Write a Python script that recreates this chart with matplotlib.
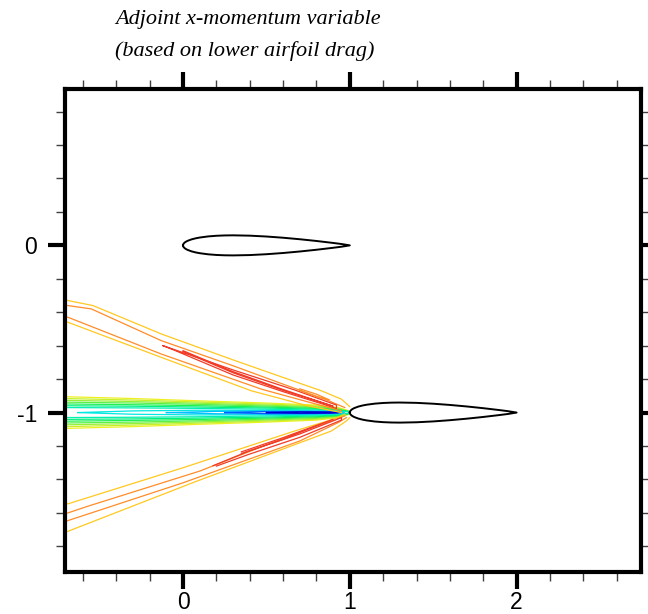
import matplotlib
matplotlib.use('Agg')
import matplotlib.pyplot as plt
import numpy as np
from matplotlib.ticker import MultipleLocator, FixedLocator

# NACA 0012 half-thickness table (fraction of chord)
naca_x = [0.0, 0.002, 0.005, 0.0125, 0.025, 0.05, 0.075, 0.1, 0.15, 0.2, 0.25,
          0.3, 0.4, 0.5, 0.6, 0.7, 0.8, 0.9, 0.95, 1.0]
naca_t = [0.0, 0.0078, 0.0122, 0.01894, 0.02615, 0.03555, 0.042, 0.04683, 0.05345,
          0.05737, 0.05941, 0.06002, 0.05803, 0.05294, 0.04563, 0.03664, 0.02623,
          0.01448, 0.00807, 0.0]
airfoil_le = [(0.0, 0.0), (1.0, -1.0)]

# wake band ahead of lower airfoil nose (nested closed contours, centre y=-1)
wake_center = -1.0
wake_x = [-0.75, -0.3, 0.1, 0.5, 0.8, 0.93, 0.99, 1.0]
wake_half = [
    [0.096, 0.084, 0.070, 0.057, 0.045, 0.030, 0.012, 0.0],
    [0.085, 0.075, 0.063, 0.051, 0.040, 0.027, 0.010, 0.0],
    [0.074, 0.066, 0.056, 0.045, 0.035, 0.023, 0.009, 0.0],
    [0.063, 0.057, 0.049, 0.039, 0.030, 0.020, 0.008, 0.0],
    [0.052, 0.047, 0.041, 0.033, 0.025, 0.017, 0.007, 0.0],
    [0.041, 0.038, 0.033, 0.027, 0.020, 0.014, 0.006, 0.0],
    [0.030, 0.028, 0.025, 0.020, 0.015, 0.010, 0.005, 0.0],
]
wake_colors = ['#eef020', '#c8f028', '#96f038', '#5af048', '#20f050', '#00f080', '#00f0b0']

# inner wake loops: x stations, half widths, colour
core_x = [
    [-0.63, -0.3, 0.1, 0.5, 0.8, 0.93, 0.97],
    [-0.1, 0.2, 0.5, 0.8, 0.92, 0.96],
    [0.25, 0.5, 0.75, 0.9, 0.95],
    [0.5, 0.7, 0.88, 0.93],
]
core_half = [
    [0.0, 0.010, 0.014, 0.013, 0.011, 0.006, 0.0],
    [0.0, 0.007, 0.009, 0.008, 0.005, 0.0],
    [0.0, 0.006, 0.006, 0.004, 0.0],
    [0.0, 0.004, 0.003, 0.0],
]
core_colors = ['#00e8e0', '#00c0ff', '#0060ff', '#0000d0']

# wedge contours (upper and lower rays from lower airfoil nose)
wedge_lines = [
    # upper wedge
    ([-0.75, -0.69, -0.54, -0.13, 0.3, 0.6, 0.83, 0.95, 1.0],
     [-0.31, -0.33, -0.36, -0.53, -0.685, -0.79, -0.87, -0.92, -0.965], '#ffc820'),
    ([-0.75, -0.69, -0.55, -0.13, 0.3, 0.6, 0.85, 0.97],
     [-0.352, -0.36, -0.38, -0.57, -0.72, -0.83, -0.92, -0.97], '#ff8c28'),
    ([-0.75, -0.69, -0.13, 0.47, 0.8, 0.95],
     [-0.42, -0.43, -0.65, -0.86, -0.95, -0.99], '#ff8c28'),
    ([-0.75, -0.69, -0.13, 0.41, 0.75, 0.95],
     [-0.44, -0.46, -0.67, -0.87, -0.96, -1.0], '#ffc820'),
    ([-0.12, 0.3, 0.67, 0.92, 0.92, 0.6, 0.3, -0.05, -0.12],
     [-0.60, -0.745, -0.865, -0.955, -0.975, -0.875, -0.775, -0.628, -0.60], '#f03c28'),
    ([0.0, 0.3, 0.6, 0.9, 0.6, 0.3, 0.0],
     [-0.63, -0.755, -0.862, -0.962, -0.868, -0.762, -0.635], '#f03c28'),
    ([0.70, 0.80, 0.88, 0.80, 0.70],
     [-0.858, -0.89, -0.925, -0.905, -0.868], '#ff8c28'),
    # lower wedge
    ([-0.75, -0.69, 0.0, 0.67, 0.9, 0.97],
     [-1.52, -1.546, -1.33, -1.11, -1.04, -1.01], '#ffc820'),
    ([-0.75, -0.69, -0.57, 0.1, 0.7, 0.92, 0.97],
     [-1.615, -1.60, -1.56, -1.35, -1.115, -1.04, -1.02], '#ff8c28'),
    ([-0.75, -0.69, 0.0, 0.7, 0.93, 0.98],
     [-1.665, -1.646, -1.42, -1.17, -1.06, -1.03], '#ff8c28'),
    ([-0.75, -0.69, 0.07, 0.89, 0.98, 1.0],
     [-1.73, -1.71, -1.415, -1.11, -1.05, -1.03], '#ffc820'),
    ([0.18, 0.4, 0.7, 0.95, 0.95, 0.7, 0.4, 0.2],
     [-1.318, -1.228, -1.128, -1.03, -1.045, -1.148, -1.248, -1.32], '#f03c28'),
    ([0.35, 0.6, 0.9, 0.6, 0.35],
     [-1.235, -1.15, -1.04, -1.16, -1.245], '#f03c28'),
]

fig = plt.figure(figsize=(6.48, 6.14), dpi=100)
ax = fig.add_axes([0.101, 0.068, 0.888, 0.787])

wx = np.array(wake_x)
for hw, col in zip(wake_half, wake_colors):
    hw = np.array(hw)
    ax.plot(np.r_[wx, wx[::-1]], np.r_[wake_center + hw, (wake_center - hw)[::-1]],
            color=col, lw=0.9)

for xs, hw, col in zip(core_x, core_half, core_colors):
    xs = np.array(xs)
    hw = np.array(hw)
    ax.plot(np.r_[xs, xs[::-1]], np.r_[wake_center + hw, (wake_center - hw)[::-1]],
            color=col, lw=0.9)

for xs, ys, col in wedge_lines:
    ax.plot(xs, ys, color=col, lw=0.9)

nx = np.array(naca_x)
nt = np.array(naca_t)
for x0, y0 in airfoil_le:
    ax.plot(np.r_[nx, nx[::-1]] + x0, np.r_[nt, -nt[::-1]] + y0, color='black', lw=1.4)

ax.set_xlim(-0.705, 2.745)
ax.set_ylim(-1.955, 0.935)

ax.xaxis.set_major_locator(FixedLocator([0, 1, 2]))
ax.yaxis.set_major_locator(FixedLocator([-1, 0]))
ax.xaxis.set_minor_locator(MultipleLocator(0.2))
ax.yaxis.set_minor_locator(MultipleLocator(0.2))
ax.set_xticklabels(['0', '1', '2'])
ax.set_yticklabels(['-1', '0'])
ax.tick_params(which='both', direction='out', top=True, right=True,
               labeltop=False, labelright=False)
ax.tick_params(which='major', length=12.5, width=3, color='black', labelsize=16.5)
ax.tick_params(axis='x', which='major', pad=1)
ax.tick_params(axis='y', which='major', pad=8)
ax.tick_params(which='minor', length=6.5, width=1, color='#404040')
for lab in ax.get_xticklabels() + ax.get_yticklabels():
    lab.set_fontfamily('Liberation Sans')
for sp in ax.spines.values():
    sp.set_linewidth(3)

fig.text(0.1775, 0.969, 'Adjoint x-momentum variable', fontsize=16,
         family='Liberation Serif', style='italic', va='center', ha='left')
fig.text(0.1775, 0.917, '(based on lower airfoil drag)', fontsize=16,
         family='Liberation Serif', style='italic', va='center', ha='left')

fig.savefig('out.png', dpi=100)
